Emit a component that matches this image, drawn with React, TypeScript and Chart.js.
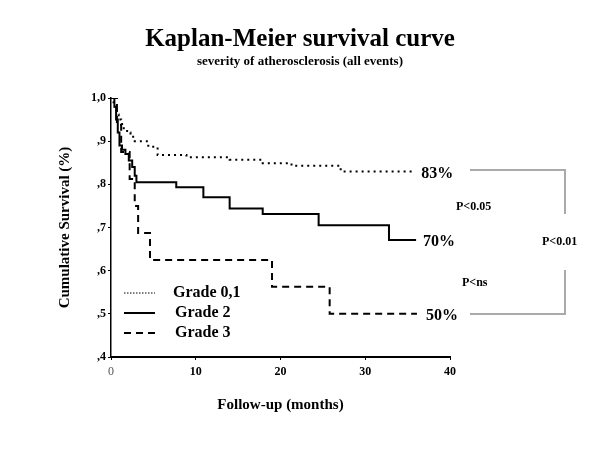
import React, { useEffect, useRef } from "react";
import { Chart, registerables } from "chart.js";

Chart.register(...registerables);

const seriesNames = ["Grade 0,1", "Grade 2", "Grade 3"];

const grade01Months = [0, 0.3, 0.5, 0.7, 0.9, 1.2, 1.5, 1.9, 2.3, 2.8, 4.4, 5.5, 8.9, 14.0, 17.9, 21.3, 27.1, 35.9];
const grade01Surv = [1.0, 0.99, 0.975, 0.962, 0.95, 0.94, 0.93, 0.92, 0.91, 0.9, 0.887, 0.868, 0.863, 0.857, 0.849, 0.843, 0.83, 0.83];

const grade2Months = [0, 0.4, 0.6, 0.8, 1.0, 1.3, 1.7, 2.1, 2.5, 2.8, 3.0, 7.7, 10.9, 14.0, 17.9, 24.5, 32.8, 36.0];
const grade2Surv = [1.0, 0.98, 0.95, 0.92, 0.89, 0.88, 0.87, 0.855, 0.84, 0.82, 0.805, 0.793, 0.77, 0.744, 0.731, 0.705, 0.671, 0.671];

const grade3Months = [0, 0.7, 1.2, 2.2, 2.8, 3.2, 4.6, 19.0, 25.8, 36.1];
const grade3Surv = [1.0, 0.9375, 0.875, 0.8125, 0.75, 0.6875, 0.625, 0.5625, 0.5, 0.5];

const yTickLabels = [",4", ",5", ",6", ",7", ",8", ",9", "1,0"];
const xTickValues = [0, 10, 20, 30, 40];

const titleText = "Kaplan-Meier survival curve";
const subtitleText = "severity of atherosclerosis (all events)";
const yTitle = "Cumulative Survival (%)";
const xTitle = "Follow-up (months)";
const endLabels = ["83%", "70%", "50%"];
const pLabels = ["P<0.05", "P<ns", "P<0.01"];

const SERIF = "'Liberation Serif', 'Times New Roman', serif";

function toPoints(xs: number[], ys: number[]) {
  return xs.map((x, i) => ({ x, y: ys[i] }));
}

const styles = [
  { dash: [2, 4], width: 2 },
  { dash: [], width: 2 },
  { dash: [7, 5], width: 2 },
];

const annotationPlugin = {
  id: "annotations",
  afterDraw(chart: any) {
    const ctx = chart.ctx as CanvasRenderingContext2D;
    const xs = chart.scales.x;
    const ys = chart.scales.y;
    ctx.save();
    ctx.fillStyle = "#000";
    ctx.textBaseline = "middle";
    // titles
    ctx.textAlign = "center";
    ctx.font = `bold 25px ${SERIF}`;
    ctx.fillText(titleText, 300, 40);
    ctx.font = `bold 13px ${SERIF}`;
    ctx.fillText(subtitleText, 300, 62);

    // end labels near final values
    const lastVals = [grade01Surv[grade01Surv.length - 1], grade2Surv[grade2Surv.length - 1], grade3Surv[grade3Surv.length - 1]];
    const lastX = [grade01Months[grade01Months.length - 1], grade2Months[grade2Months.length - 1], grade3Months[grade3Months.length - 1]];
    const labelDx = [6, 7, 9];
    ctx.textAlign = "left";
    ctx.font = `bold 16px ${SERIF}`;
    endLabels.forEach((t, i) => {
      const px = xs.getPixelForValue(lastX[i]) + labelDx[i];
      const py = ys.getPixelForValue(lastVals[i]) + 2;
      ctx.fillText(t, px, py);
    });

    // p-value labels
    ctx.font = `bold 12px ${SERIF}`;
    ctx.fillText(pLabels[0], 456, 207);
    ctx.fillText(pLabels[1], 462, 283);
    ctx.fillText(pLabels[2], 542, 242);

    // brackets
    ctx.strokeStyle = "#aaaaaa";
    ctx.lineWidth = 2;
    ctx.beginPath();
    ctx.moveTo(470, 170);
    ctx.lineTo(565, 170);
    ctx.lineTo(565, 214);
    ctx.moveTo(565, 270);
    ctx.lineTo(565, 314);
    ctx.lineTo(470, 314);
    ctx.stroke();

    // legend
    const legendY = [293, 313, 333];
    const legendTextX = [173, 175, 175];
    ctx.strokeStyle = "#000";
    ctx.font = `bold 16px ${SERIF}`;
    seriesNames.forEach((n, i) => {
      ctx.lineWidth = i === 0 ? 1 : styles[i].width;
      ctx.setLineDash(i === 0 ? [1.5, 1.5] : styles[i].dash);
      ctx.beginPath();
      ctx.moveTo(124, legendY[i]);
      ctx.lineTo(155, legendY[i]);
      ctx.stroke();
      ctx.setLineDash([]);
      ctx.fillText(n, legendTextX[i], legendY[i]);
    });
    ctx.restore();
  },
};

export default function App() {
  const ref = useRef<HTMLCanvasElement>(null);
  useEffect(() => {
    if (!ref.current) return;
    const datas = [
      toPoints(grade01Months, grade01Surv),
      toPoints(grade2Months, grade2Surv),
      toPoints(grade3Months, grade3Surv),
    ];
    const chart = new Chart(ref.current, {
      type: "line",
      data: {
        datasets: datas.map((d, i) => ({
          label: seriesNames[i],
          data: d,
          borderColor: "#000",
          borderWidth: styles[i].width,
          borderDash: styles[i].dash,
          pointRadius: 0,
          stepped: "before" as const,
          fill: false,
        })),
      },
      options: {
        responsive: false,
        animation: false,
        layout: { padding: { left: 56, top: 98, right: 150, bottom: 36 } },
        plugins: { legend: { display: false }, tooltip: { enabled: false }, title: { display: false } },
        scales: {
          x: {
            type: "linear",
            min: 0,
            max: 40,
            afterFit(scale: any) {
              scale.height = 57;
            },
            afterBuildTicks(scale: any) {
              scale.ticks = xTickValues.map((v) => ({ value: v }));
            },
            grid: { drawOnChartArea: false, tickLength: 3, color: "#000" },
            border: { display: true, color: "#000", width: 2 },
            ticks: {
              padding: 5,
              color: (c: any) => (c.tick && c.tick.value === 0 ? "#555" : "#000"),
              font: (c: any) => ({
                family: SERIF,
                size: 12,
                weight: c.tick && c.tick.value === 0 ? "normal" : "bold",
              }),
              callback: (v: any) => String(v),
            },
            title: {
              display: true,
              text: xTitle,
              color: "#000",
              font: { family: SERIF, size: 15, weight: "bold" },
              padding: 0,
            },
          },
          y: {
            type: "linear",
            min: 0.4,
            max: 1.0,
            afterFit(scale: any) {
              scale.width = 55;
            },
            grid: { drawOnChartArea: false, tickLength: 3, color: "#000" },
            border: { display: true, color: "#000", width: 1.5 },
            ticks: {
              stepSize: 0.1,
              padding: 2,
              color: "#000",
              font: { family: SERIF, size: 12, weight: "bold" },
              callback: (v: any) => {
                const idx = Math.round((Number(v) - 0.4) * 10);
                return yTickLabels[idx] ?? "";
              },
            },
            title: {
              display: true,
              text: yTitle,
              color: "#000",
              font: { family: SERIF, size: 15, weight: "bold" },
              padding: 0,
            },
          },
        },
      },
      plugins: [annotationPlugin],
    });
    return () => chart.destroy();
  }, []);
  return (
    <div style={{ position: "fixed", left: 0, top: 0, width: 600, height: 450, background: "#fff" }}>
      <canvas ref={ref} width={600} height={450} />
    </div>
  );
}
